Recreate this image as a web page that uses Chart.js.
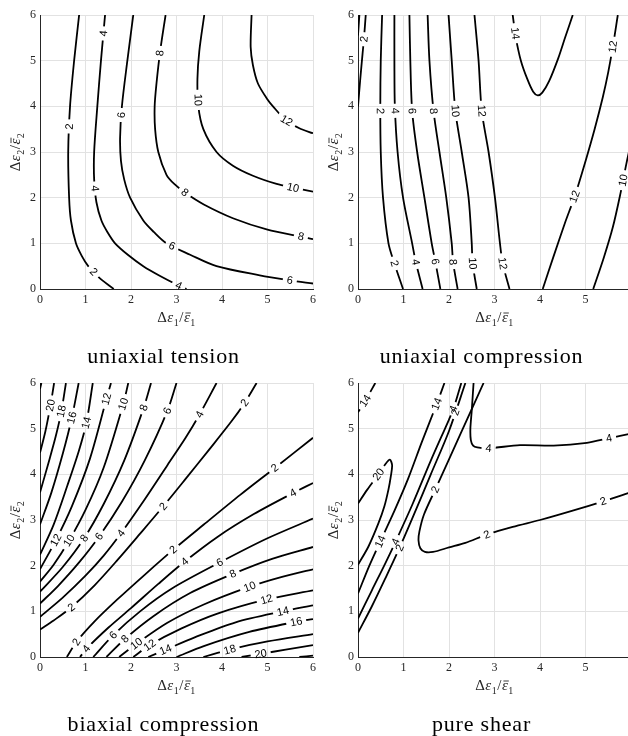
<!DOCTYPE html>
<html>
<head>
<meta charset="utf-8">
<script src="https://cdn.jsdelivr.net/npm/chart.js@4.4.0/dist/chart.umd.min.js"></script>
<style>
  html, body { margin: 0; padding: 0; background: #fff; }
  body { width: 628px; height: 736px; overflow: hidden; position: relative; }
  canvas { position: absolute; }
</style>
</head>
<body>
<canvas id="tension" width="320" height="368" style="left:0;top:0"></canvas>
<canvas id="compression" width="320" height="368" style="left:318px;top:0"></canvas>
<canvas id="biaxial" width="320" height="368" style="left:0;top:368px"></canvas>
<canvas id="shear" width="320" height="368" style="left:318px;top:368px"></canvas>
<script>
// ---- uniaxial tension ----
const tensionLevels = [2, 4, 6, 8, 10, 12];
const tensionLines = [
  [[0.86, 6], [0.75, 5], [0.66, 4], [0.62, 3], [0.64, 2], [0.68, 1.5], [0.79, 1], [0.92, 0.72], [1.06, 0.5], [1.3, 0.25], [1.62, 0]],
  [[1.43, 6], [1.34, 5], [1.26, 4], [1.19, 3], [1.19, 2.4], [1.24, 1.9], [1.35, 1.5], [1.48, 1.25], [1.65, 1], [1.93, 0.75], [2.27, 0.5], [2.65, 0.28], [3.0, 0.1], [3.22, 0]],
  [[2.05, 6], [1.92, 5], [1.8, 4], [1.76, 3.3], [1.78, 2.8], [1.85, 2.4], [1.98, 2], [2.27, 1.5], [2.5, 1.25], [2.78, 1.0], [3.3, 0.75], [3.88, 0.5], [4.83, 0.3], [5.5, 0.19], [6, 0.12]],
  [[2.76, 6], [2.64, 5.2], [2.56, 4.5], [2.52, 4], [2.53, 3.5], [2.6, 3], [2.78, 2.5], [2.95, 2.3], [3.2, 2.1], [3.6, 1.85], [4.24, 1.55], [5.0, 1.3], [5.73, 1.15], [6, 1.09]],
  [[3.61, 6], [3.5, 5.2], [3.46, 4.6], [3.48, 4.0], [3.59, 3.5], [3.88, 3.0], [4.24, 2.7], [4.68, 2.48], [5.2, 2.3], [5.56, 2.22], [6, 2.13]],
  [[4.65, 6], [4.63, 5.3], [4.68, 4.9], [4.79, 4.5], [5.0, 4.15], [5.12, 4.0], [5.4, 3.7], [5.7, 3.52], [6, 3.41]],
];
const tensionTags = [
  [[0.64, 3.56], [1.17, 0.37]],
  [[1.35, 5.6], [1.19, 2.2], [3.05, 0.08]],
  [[1.78, 3.81], [2.93, 1.0], [5.49, 0.19]],
  [[2.63, 5.17], [3.18, 2.11], [5.73, 1.13]],
  [[3.45, 4.14], [5.56, 2.22]],
  [[5.41, 3.67]],
];

// ---- uniaxial compression ----
const compressionLevels = [2, 2, 2, 4, 6, 8, 10, 12, 14, 12, 10];
const compressionLines = [
  [[0, 5.55], [0.03, 6]],
  [[0, 4.0], [0.05, 4.6], [0.1, 5.15], [0.13, 5.47], [0.17, 6]],
  [[0.53, 6], [0.5, 5], [0.49, 4], [0.5, 3], [0.55, 2], [0.67, 1], [0.8, 0.56], [0.99, 0]],
  [[0.8, 6], [0.8, 5], [0.81, 4], [0.87, 3], [0.99, 2], [1.19, 1], [1.27, 0.59], [1.42, 0]],
  [[1.13, 6], [1.15, 5], [1.19, 3.9], [1.3, 3], [1.46, 2], [1.62, 1], [1.7, 0.6], [1.81, 0]],
  [[1.53, 6], [1.57, 5], [1.66, 3.9], [1.79, 3], [1.94, 2], [2.06, 1], [2.09, 0.59], [2.19, 0]],
  [[1.99, 6], [2.06, 5], [2.14, 3.9], [2.28, 3], [2.43, 2], [2.5, 1], [2.52, 0.56], [2.61, 0]],
  [[2.56, 6], [2.65, 5], [2.72, 3.9], [2.87, 3], [3.01, 2], [3.12, 1], [3.18, 0.56], [3.33, 0]],
  [[3.4, 6], [3.47, 5.5], [3.58, 5.0], [3.72, 4.6], [3.85, 4.32], [3.95, 4.24], [4.05, 4.3], [4.2, 4.55], [4.4, 5.05], [4.55, 5.5], [4.72, 6]],
  [[4.06, 0], [4.3, 0.72], [4.55, 1.45], [4.77, 2.05], [5.0, 2.8], [5.2, 3.5], [5.38, 4.2], [5.5, 4.75], [5.6, 5.3], [5.71, 6]],
  [[5.17, 0], [5.4, 0.68], [5.6, 1.35], [5.77, 2.1], [5.9, 2.75], [6, 3.2]],
];
const compressionTags = [
  [],
  [[0.13, 5.47]],
  [[0.49, 3.9], [0.8, 0.56]],
  [[0.8, 3.9], [1.27, 0.59]],
  [[1.19, 3.9], [1.7, 0.6]],
  [[1.66, 3.9], [2.09, 0.59]],
  [[2.14, 3.9], [2.52, 0.56]],
  [[2.72, 3.9], [3.18, 0.56]],
  [[3.45, 5.6]],
  [[4.77, 2.02], [5.58, 5.31]],
  [[5.79, 2.39]],
];

// ---- biaxial compression: family above the valley, then family below ----
const biaxialUpperLevels = [2, 4, 6, 8, 10, 12, 14, 16, 18, 20, 22];
const biaxialUpperLines = [
  [[0, 0.6], [0.3, 0.8], [0.69, 1.09], [1.2, 1.57], [1.7, 2.12], [2.2, 2.7], [2.71, 3.3], [3.2, 3.9], [3.7, 4.52], [4.2, 5.15], [4.5, 5.57], [4.76, 6]],
  [[0, 0.88], [0.5, 1.3], [1.0, 1.78], [1.4, 2.22], [1.78, 2.71], [2.3, 3.45], [2.8, 4.2], [3.2, 4.8], [3.5, 5.3], [3.88, 6]],
  [[0, 1.17], [0.4, 1.56], [0.85, 2.06], [1.3, 2.64], [1.8, 3.4], [2.3, 4.3], [2.8, 5.39], [3.0, 6]],
  [[0, 1.43], [0.5, 1.97], [0.97, 2.6], [1.4, 3.35], [1.85, 4.3], [2.28, 5.46], [2.44, 6]],
  [[0, 1.65], [0.3, 2.02], [0.64, 2.55], [1.0, 3.22], [1.4, 4.15], [1.83, 5.54], [1.94, 6]],
  [[0, 1.92], [0.35, 2.56], [0.7, 3.3], [1.1, 4.35], [1.46, 5.65], [1.56, 6]],
  [[0, 2.24], [0.3, 2.9], [0.6, 3.75], [0.85, 4.5], [1.02, 5.13], [1.16, 6]],
  [[0, 2.9], [0.25, 3.6], [0.5, 4.45], [0.7, 5.24], [0.85, 6]],
  [[0, 3.6], [0.2, 4.3], [0.35, 4.85], [0.47, 5.38], [0.57, 6]],
  [[0, 4.47], [0.12, 4.95], [0.23, 5.51], [0.31, 6]],
  [[0, 5.87], [0.03, 6]],
];
const biaxialUpperTags = [
  [[0.69, 1.09], [2.71, 3.3], [4.5, 5.57]],
  [[1.78, 2.71], [3.49, 5.32]],
  [[1.3, 2.64], [2.8, 5.39]],
  [[0.97, 2.6], [2.28, 5.46]],
  [[0.64, 2.55], [1.83, 5.54]],
  [[0.35, 2.56], [1.46, 5.65]],
  [[1.02, 5.13]],
  [[0.7, 5.24]],
  [[0.47, 5.38]],
  [[0.23, 5.51]],
  [],
];
const biaxialLowerLevels = [2, 4, 6, 8, 10, 12, 14, 16, 18, 20, 22];
const biaxialLowerLines = [
  [[0.59, 0], [0.8, 0.33], [1.2, 0.78], [1.7, 1.26], [2.3, 1.8], [2.93, 2.35], [3.6, 2.9], [4.4, 3.55], [5.16, 4.14], [6, 4.8]],
  [[0.88, 0], [1.02, 0.18], [1.5, 0.64], [2.0, 1.07], [2.6, 1.6], [3.18, 2.09], [3.9, 2.63], [4.7, 3.13], [5.56, 3.59], [6, 3.81]],
  [[1.17, 0], [1.61, 0.48], [2.2, 1.0], [2.9, 1.5], [3.95, 2.07], [5.0, 2.6], [6, 3.03]],
  [[1.46, 0], [1.87, 0.4], [2.5, 0.9], [3.3, 1.4], [4.24, 1.82], [5.1, 2.15], [6, 2.41]],
  [[1.74, 0], [2.12, 0.29], [2.8, 0.75], [3.6, 1.15], [4.61, 1.54], [5.3, 1.75], [6, 1.92]],
  [[2.05, 0], [2.41, 0.26], [3.1, 0.62], [3.9, 0.95], [4.98, 1.26], [6, 1.46]],
  [[2.38, 0], [2.76, 0.16], [3.4, 0.43], [4.3, 0.76], [5.34, 1.0], [6, 1.13]],
  [[3.0, 0], [3.6, 0.24], [4.6, 0.55], [5.63, 0.77], [6, 0.83]],
  [[3.59, 0], [4.17, 0.16], [5.0, 0.34], [6, 0.5]],
  [[4.43, 0], [4.85, 0.07], [5.4, 0.16], [6, 0.26]],
  [[5.7, 0], [6, 0.03]],
];
const biaxialLowerTags = [
  [[0.8, 0.33], [2.93, 2.35], [5.16, 4.14]],
  [[1.02, 0.18], [3.18, 2.09], [5.56, 3.59]],
  [[1.61, 0.48], [3.95, 2.07]],
  [[1.87, 0.4], [4.24, 1.82]],
  [[2.12, 0.29], [4.61, 1.54]],
  [[2.41, 0.26], [4.98, 1.26]],
  [[2.76, 0.16], [5.34, 1.0]],
  [[5.63, 0.77]],
  [[4.17, 0.16]],
  [[4.85, 0.07]],
  [],
];

// ---- pure shear ----
const shearLevels = [14, 20, 14, 4, 2, 2, 4];
const shearLines = [
  [[0, 5.36], [0.16, 5.61], [0.38, 6]],
  [[0, 3.36], [0.2, 3.66], [0.45, 4.0], [0.6, 4.22], [0.7, 4.32], [0.75, 4.2], [0.72, 3.95], [0.67, 3.67], [0.58, 3.3], [0.45, 2.93], [0.23, 2.42], [0, 2.02]],
  [[0, 1.39], [0.25, 2.0], [0.49, 2.53], [0.8, 3.2], [1.1, 3.9], [1.4, 4.7], [1.73, 5.54], [1.9, 6]],
  [[0, 0.84], [0.3, 1.45], [0.6, 2.05], [0.86, 2.6], [1.2, 3.35], [1.6, 4.3], [2.0, 5.2], [2.1, 5.44], [2.27, 6]],
  [[0, 0.53], [0.3, 1.1], [0.6, 1.72], [0.9, 2.36], [1.2, 3.05], [1.6, 4.0], [2.0, 4.95], [2.36, 6]],
  [[2.76, 6], [2.25, 4.88], [1.7, 3.67], [1.45, 3.12], [1.35, 2.75], [1.33, 2.55], [1.37, 2.38], [1.47, 2.3], [1.65, 2.3], [2.0, 2.4], [2.36, 2.5], [2.83, 2.68], [3.4, 2.85], [4.0, 3.0], [4.7, 3.2], [5.39, 3.41], [6, 3.61]],
  [[2.54, 6], [2.5, 5.4], [2.47, 5.0], [2.48, 4.75], [2.53, 4.63], [2.62, 4.59], [2.87, 4.57], [3.56, 4.64], [4.3, 4.63], [5.03, 4.69], [5.52, 4.79], [6, 4.89]],
];
const shearTags = [
  [[0.16, 5.61]],
  [[0.45, 4.0]],
  [[0.49, 2.53], [1.73, 5.54]],
  [[0.84, 2.52], [2.08, 5.44]],
  [[0.9, 2.4], [2.14, 5.36]],
  [[1.7, 3.67], [2.83, 2.68], [5.39, 3.41]],
  [[2.87, 4.57], [5.52, 4.79]],
];

const ink = '#262626';
const tagFont = '11px "Liberation Sans"';

function toPixels(chart, pts) {
  const {x, y} = chart.scales;
  return pts.map(([a, b]) => [x.getPixelForValue(a), y.getPixelForValue(b)]);
}

// nearest point on a polyline, with the direction of that segment
function snap(poly, px, py) {
  let best = null;
  for (let i = 0; i < poly.length - 1; i++) {
    const [x0, y0] = poly[i];
    const [x1, y1] = poly[i + 1];
    const dx = x1 - x0, dy = y1 - y0;
    const len2 = dx * dx + dy * dy || 1;
    const t = Math.max(0, Math.min(1, ((px - x0) * dx + (py - y0) * dy) / len2));
    const qx = x0 + t * dx, qy = y0 + t * dy;
    const d = (qx - px) ** 2 + (qy - py) ** 2;
    if (!best || d < best.d) best = {d, x: qx, y: qy, a: Math.atan2(dy, dx)};
  }
  let a = best.a;
  if (a > Math.PI / 2) a -= Math.PI;
  if (a <= -Math.PI / 2) a += Math.PI;
  return {x: best.x, y: best.y, a};
}

function boxPath(ctx, t, h) {
  const c = Math.cos(t.a), s = Math.sin(t.a);
  const hw = t.w / 2, hh = h / 2;
  [[-hw, -hh], [hw, -hh], [hw, hh], [-hw, hh]].forEach(([u, v], k) => {
    const X = t.x + u * c - v * s, Y = t.y + u * s + v * c;
    if (k === 0) ctx.moveTo(X, Y); else ctx.lineTo(X, Y);
  });
  ctx.closePath();
}

// Δε_i / ε̄_i drawn piece by piece so the epsilons can be italic
function mathLabel(ctx, cx, cy, idx, rot) {
  const fs = 15;
  const up = fs + 'px "Liberation Serif"';
  const it = 'italic ' + fs + 'px "Liberation Serif"';
  const sm = '10px "Liberation Serif"';
  const parts = [
    {t: 'Δ', f: up, dy: 0},
    {t: 'ε', f: it, dy: 0},
    {t: idx, f: sm, dy: 3.5},
    {t: '/', f: up, dy: 0},
    {t: 'ε', f: it, dy: 0, bar: true},
    {t: idx, f: sm, dy: 3.5},
  ];
  ctx.save();
  ctx.translate(cx, cy);
  ctx.rotate(rot);
  ctx.fillStyle = ink;
  ctx.strokeStyle = ink;
  ctx.textBaseline = 'alphabetic';
  ctx.textAlign = 'left';
  parts.forEach(p => { ctx.font = p.f; p.w = ctx.measureText(p.t).width + 0.5; });
  let x = -parts.reduce((s, p) => s + p.w, 0) / 2;
  parts.forEach(p => {
    ctx.font = p.f;
    ctx.fillText(p.t, x, p.dy);
    if (p.bar) {
      ctx.lineWidth = 0.9;
      ctx.beginPath();
      ctx.moveTo(x + 1.5, -fs * 0.6);
      ctx.lineTo(x + p.w + 0.5, -fs * 0.6);
      ctx.stroke();
    }
    x += p.w;
  });
  ctx.restore();
}

function contourPlugin(lines, levels, tags, caption) {
  return {
    id: 'contourTags',
    beforeDatasetsDraw(chart) {
      const ctx = chart.ctx;
      ctx.save();
      ctx.font = tagFont;
      chart.$tags = lines.map((pts, i) => {
        const poly = toPixels(chart, pts);
        const text = String(levels[i]);
        const w = ctx.measureText(text).width + 8;
        return (tags[i] || []).map(([a, b]) => {
          const p = snap(poly, chart.scales.x.getPixelForValue(a), chart.scales.y.getPixelForValue(b));
          return Object.assign(p, {text, w});
        });
      });
      ctx.restore();
    },
    // cut a gap in the line under each of its own labels
    beforeDatasetDraw(chart, args) {
      const list = chart.$tags && chart.$tags[args.index];
      if (!list || !list.length) return;
      const ctx = chart.ctx;
      ctx.save();
      ctx.beginPath();
      ctx.rect(0, 0, chart.width, chart.height);
      list.forEach(t => boxPath(ctx, t, 10));
      ctx.clip('evenodd');
      chart.$clipped = true;
    },
    afterDatasetDraw(chart) {
      if (chart.$clipped) {
        chart.ctx.restore();
        chart.$clipped = false;
      }
    },
    afterDatasetsDraw(chart) {
      const ctx = chart.ctx;
      ctx.save();
      ctx.font = tagFont;
      ctx.fillStyle = '#000';
      ctx.textAlign = 'center';
      ctx.textBaseline = 'middle';
      chart.$tags.flat().forEach(t => {
        ctx.save();
        ctx.translate(t.x, t.y);
        ctx.rotate(t.a);
        ctx.fillText(t.text, 0, 0.5);
        ctx.restore();
      });
      ctx.restore();
    },
    afterDraw(chart) {
      const ctx = chart.ctx;
      const a = chart.chartArea;
      mathLabel(ctx, (a.left + a.right) / 2, a.bottom + 33, '1', 0);
      mathLabel(ctx, a.left - 20, (a.top + a.bottom) / 2, '2', -Math.PI / 2);
      // caption sits under the whole panel, y label included
      ctx.save();
      ctx.font = '22px "Liberation Serif"';
      ctx.letterSpacing = '0.8px';
      ctx.fillStyle = '#000';
      ctx.textAlign = 'center';
      ctx.textBaseline = 'alphabetic';
      ctx.fillText(caption, (a.left + a.right) / 2 - 13, 363);
      ctx.restore();
    },
  };
}

function axis(horizontal) {
  return {
    type: 'linear',
    min: 0,
    max: 6,
    ticks: {
      stepSize: 1,
      color: ink,
      padding: 4,
      maxRotation: 0,
      font: {family: 'Liberation Serif', size: 12},
    },
    grid: {color: '#e2e2e2', drawTicks: false},
    border: {color: ink, width: 1},
    afterFit: s => {
      if (horizontal) s.height = 50;
      else s.width = 40;
    },
  };
}

function contourChart(id, lines, levels, tags, caption) {
  const datasets = lines.map(pts => ({
    data: pts.map(([x, y]) => ({x, y})),
    showLine: true,
    borderColor: '#000',
    borderWidth: 1.8,
    pointRadius: 0,
    tension: 0.3,
    fill: false,
  }));

  return new Chart(document.getElementById(id), {
    type: 'scatter',
    data: {datasets},
    options: {
      responsive: false,
      animation: false,
      events: [],
      layout: {padding: {top: 15, right: 6.7, bottom: 29, left: 0}},
      plugins: {
        legend: {display: false},
        tooltip: {enabled: false},
      },
      scales: {
        x: axis(true),
        y: axis(false),
      },
    },
    plugins: [contourPlugin(lines, levels, tags, caption)],
  });
}

contourChart('tension', tensionLines, tensionLevels, tensionTags, 'uniaxial tension');
contourChart('compression', compressionLines, compressionLevels, compressionTags, 'uniaxial compression');
contourChart('biaxial',
  biaxialUpperLines.concat(biaxialLowerLines),
  biaxialUpperLevels.concat(biaxialLowerLevels),
  biaxialUpperTags.concat(biaxialLowerTags),
  'biaxial compression');
contourChart('shear', shearLines, shearLevels, shearTags, 'pure shear');
</script>
</body>
</html>
